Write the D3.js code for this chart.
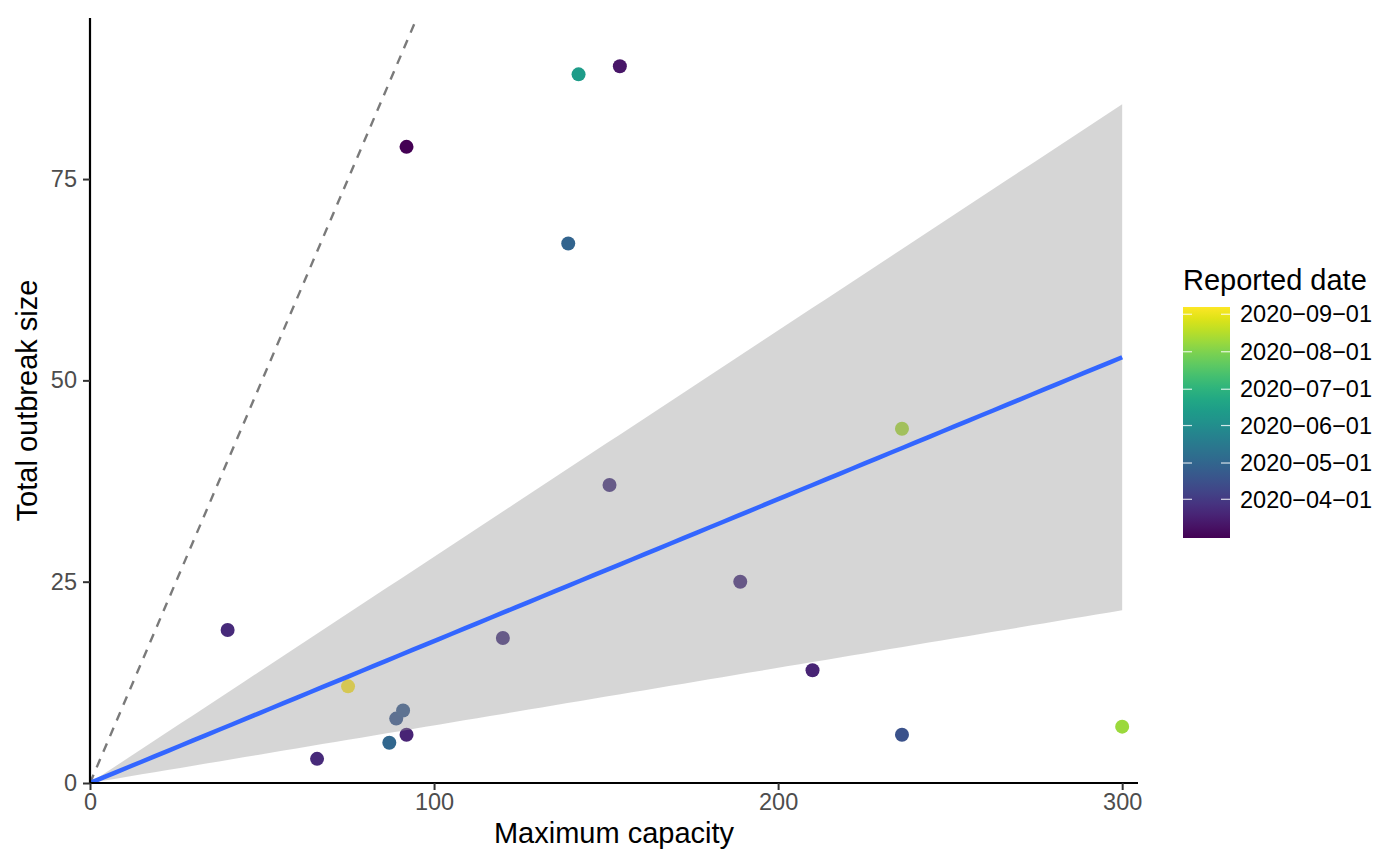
<!DOCTYPE html>
<html>
<head>
<meta charset="utf-8">
<script src="https://cdn.jsdelivr.net/npm/d3@7"></script>
<style>
  html, body { margin: 0; padding: 0; background: #fff; }
  svg { display: block; font-family: "Liberation Sans", Arial, Helvetica, sans-serif; }
</style>
</head>
<body>
<svg id="chart" width="1376" height="852"></svg>
<script>
// ---- data ----
const capacity = [92, 154, 40, 66, 92, 210, 120, 151, 189, 89, 91, 87, 139, 236, 142, 236, 300, 75];
const outbreakSize = [79, 89, 19, 3, 6, 14, 18, 37, 25, 8, 9, 5, 67, 6, 88, 44, 7, 12];
const reportedDate = ["2020-02-29", "2020-03-11", "2020-03-23", "2020-03-23", "2020-03-19", "2020-03-19",
  "2020-03-27", "2020-03-27", "2020-03-25", "2020-04-21", "2020-04-23", "2020-05-02",
  "2020-04-30", "2020-04-17", "2020-06-13", "2020-08-13", "2020-08-09", "2020-09-07"];
const xTicks = [0, 100, 200, 300];
const yTicks = [0, 25, 50, 75];
const legendTicks = ["2020-04-01", "2020-05-01", "2020-06-01", "2020-07-01", "2020-08-01", "2020-09-01"];

const parse = d3.timeParse("%Y-%m-%d");
const pts = capacity.map((c, i) => ({ x: c, y: outbreakSize[i], d: parse(reportedDate[i]) }));

const svg = d3.select("#chart");
const L = 90, R = 1138, T = 18, B = 783;

const x = d3.scaleLinear().domain([0, 304.6]).range([L, R]);
const y = d3.scaleLinear().domain([0, 95]).range([B, T]);
const dateExtent = d3.extent(pts, d => d.d);
const color = d3.scaleSequential(d3.interpolateViridis).domain(dateExtent);

// clip
svg.append("defs").append("clipPath").attr("id", "clip")
  .append("rect").attr("x", L).attr("y", T).attr("width", R - L).attr("height", B - T);

const plot = svg.append("g").attr("clip-path", "url(#clip)");

// identity line (dashed)
plot.append("line")
  .attr("x1", x(0)).attr("y1", y(0)).attr("x2", x(95)).attr("y2", y(95))
  .attr("stroke", "#7a7a7a").attr("stroke-width", 2.4).attr("stroke-dasharray", "9,8");

// points (drawn before the smooth, so ribbon overlays them)
plot.selectAll("circle.pt").data(pts).enter().append("circle")
  .attr("class", "pt")
  .attr("cx", d => x(d.x)).attr("cy", d => y(d.y)).attr("r", 7)
  .attr("fill", d => color(d.d));

// linear model through origin with 95% CI
const n = pts.length;
const sxx = d3.sum(pts, d => d.x * d.x);
const sxy = d3.sum(pts, d => d.x * d.y);
const slope = sxy / sxx;
const rss = d3.sum(pts, d => (d.y - slope * d.x) ** 2);
const s2 = rss / (n - 1);
const seSlope = Math.sqrt(s2 / sxx);
const tq = 2.109816; // t(0.975, df=17)
const xMax = d3.max(pts, d => d.x);
const grid = d3.range(0, 81).map(i => i * xMax / 80);
const band = grid.map(v => ({ x: v, fit: slope * v, lo: (slope - tq * seSlope) * v, hi: (slope + tq * seSlope) * v }));

plot.append("path").datum(band)
  .attr("d", d3.area().x(d => x(d.x)).y0(d => y(d.lo)).y1(d => y(d.hi)))
  .attr("fill", "#999999").attr("fill-opacity", 0.4);

plot.append("path").datum(band)
  .attr("d", d3.line().x(d => x(d.x)).y(d => y(d.fit)))
  .attr("fill", "none").attr("stroke", "#3366FF").attr("stroke-width", 4.5);

// axes
const xAxis = d3.axisBottom(x).tickValues(xTicks).tickSize(7).tickPadding(3);
const yAxis = d3.axisLeft(y).tickValues(yTicks).tickSize(7).tickPadding(6);

const gx = svg.append("g").attr("transform", `translate(0,${B})`).call(xAxis);
const gy = svg.append("g").attr("transform", `translate(${L},0)`).call(yAxis);
[gx, gy].forEach(g => {
  g.select(".domain").attr("stroke", "#000").attr("stroke-width", 2.2);
  g.selectAll(".tick line").attr("stroke", "#333").attr("stroke-width", 2);
  g.selectAll(".tick text").attr("fill", "#4d4d4d").style("font-size", "23.5px")
    .style("font-family", "'Liberation Sans', Arial, sans-serif");
});
gx.select(".domain").attr("d", `M${L},0H${R}`);
gy.select(".domain").attr("d", `M0,${T}V${B}`);

// axis titles
svg.append("text").attr("x", (L + R) / 2).attr("y", 843).attr("text-anchor", "middle")
  .style("font-size", "29px").attr("fill", "#000").text("Maximum capacity");
svg.append("text").attr("transform", `translate(37,${(T + B) / 2}) rotate(-90)`)
  .attr("text-anchor", "middle").style("font-size", "29px").attr("fill", "#000")
  .text("Total outbreak size");

// legend
const lgX = 1183, lgW = 47, lgTop = 307, lgBot = 538;
svg.append("text").attr("x", 1183).attr("y", 290).style("font-size", "29px").attr("fill", "#000")
  .text("Reported date");
const ly = d3.scaleTime().domain(dateExtent).range([lgBot, lgTop]);
const grad = svg.select("defs").append("linearGradient").attr("id", "vgrad")
  .attr("x1", 0).attr("y1", 1).attr("x2", 0).attr("y2", 0);
d3.range(0, 21).forEach(i => {
  grad.append("stop").attr("offset", i / 20).attr("stop-color", d3.interpolateViridis(i / 20));
});
svg.append("rect").attr("x", lgX).attr("y", lgTop).attr("width", lgW).attr("height", lgBot - lgTop)
  .attr("fill", "url(#vgrad)");
const lg = svg.append("g");
legendTicks.forEach(t => {
  const yy = ly(parse(t));
  lg.append("line").attr("x1", lgX).attr("x2", lgX + 9).attr("y1", yy).attr("y2", yy)
    .attr("stroke", "#fff").attr("stroke-width", 1.2).attr("stroke-opacity", 0.8);
  lg.append("line").attr("x1", lgX + lgW - 9).attr("x2", lgX + lgW).attr("y1", yy).attr("y2", yy)
    .attr("stroke", "#fff").attr("stroke-width", 1.2).attr("stroke-opacity", 0.8);
  lg.append("text").attr("x", 1240).attr("y", yy).attr("dy", "0.35em")
    .style("font-size", "23.5px").attr("fill", "#000").text(t.replace(/-/g, "\u2212"));
});
</script>
</body>
</html>
